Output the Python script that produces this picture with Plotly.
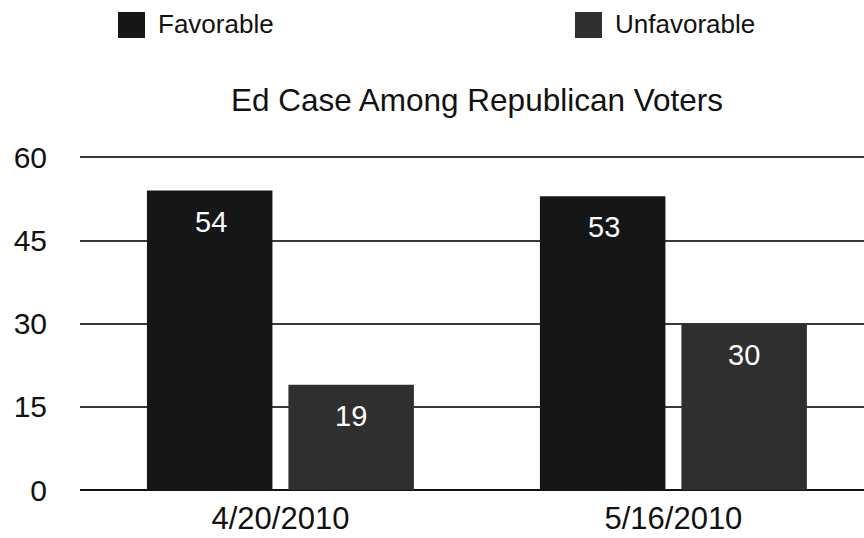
import plotly.graph_objects as go

# Poll dates and Ed Case favorability among Republican voters (%)
dates = ["4/20/2010", "5/16/2010"]
favorable = [54, 53]
unfavorable = [19, 30]
series_names = ["Favorable", "Unfavorable"]
series_colors = ["#161616", "#2f2f2f"]
y_ticks = [0, 15, 30, 45, 60]
chart_title = "Ed Case Among Republican Voters"

FONT = "Liberation Sans, Arial, sans-serif"
W, H = 864, 538
ML, MT, MB = 80, 154, 48
PW, PH = W - ML, H - MT - MB


def px_x(x):
    return (x - ML) / PW


def px_y(y):
    return (H - MB - y) / PH


fig = go.Figure()
for name, vals, col in zip(series_names, [favorable, unfavorable], series_colors):
    fig.add_trace(go.Bar(
        x=dates, y=vals, name=name,
        marker=dict(color=col, line=dict(width=0)),
        showlegend=False,
    ))

# value labels placed just below each bar top
offsets = [-69, 71]
for vals, dx in zip([favorable, unfavorable], offsets):
    for d, v in zip(dates, vals):
        fig.add_annotation(
            x=d, y=v, xref="x", yref="y", text=str(v),
            showarrow=False, xshift=dx, yshift=-31,
            font=dict(family=FONT, size=29, color="white"),
        )

# custom legend: large swatches with labels
legend_x = [118, 575]
for name, col, lx in zip(series_names, series_colors, legend_x):
    fig.add_shape(
        type="rect", xref="paper", yref="paper",
        x0=px_x(lx), x1=px_x(lx + 27),
        y0=px_y(38), y1=px_y(12),
        fillcolor=col, line=dict(width=0),
    )
    fig.add_annotation(
        xref="paper", yref="paper",
        x=px_x(lx + 38), y=px_y(24),
        xanchor="left", yanchor="middle", showarrow=False,
        text=name, font=dict(family=FONT, size=26, color="#111"),
    )

fig.update_layout(
    width=W, height=H,
    margin=dict(l=ML, r=0, t=MT, b=MB, pad=0),
    paper_bgcolor="white", plot_bgcolor="white",
    barmode="group", bargap=0.28, bargroupgap=0.113,
    title=dict(
        text=chart_title, x=477 / W, xanchor="center",
        y=1 - 100 / H, yanchor="middle",
        font=dict(family=FONT, size=31.5, color="#111"),
    ),
    font=dict(family=FONT, color="#111"),
    xaxis=dict(
        range=[-0.51, 1.485], showgrid=False, zeroline=False,
        showline=False, ticks="", ticklabelstandoff=7,
        tickfont=dict(family=FONT, size=31, color="#111"),
    ),
    yaxis=dict(
        range=[0, 60.6], tickvals=y_ticks, showgrid=True,
        gridcolor="#3a3a3a", gridwidth=1.5,
        zeroline=True, zerolinecolor="#111", zerolinewidth=2,
        showline=False, ticks="", ticklabelstandoff=32,
        tickfont=dict(family=FONT, size=30, color="#111"),
    ),
)

fig.write_html("out.html")
